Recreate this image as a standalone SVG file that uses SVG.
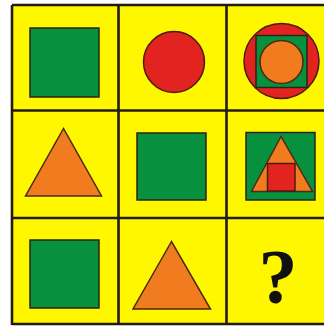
<svg xmlns="http://www.w3.org/2000/svg" width="324" height="328" viewBox="0 0 324 328">
<style>
.g{fill:#07913f;stroke:#2b2415;stroke-width:1.5}
.r{fill:#e3231f;stroke:#4a1d12;stroke-width:1.5}
.o{fill:#f07c1f;stroke:#4a2a10;stroke-width:1.5}
.ln{stroke:#231a12;stroke-width:2.6;fill:none}
</style>
<rect width="324" height="328" fill="#ffffff"/>
<rect x="12" y="5" width="314" height="320" fill="#fff700"/>
<g id="c11"><rect class="g" x="30" y="28" width="69" height="69"/></g>
<g id="c12"><circle class="r" cx="174" cy="62" r="30.5"/></g>
<g id="c13">
<circle class="r" cx="281.5" cy="61" r="37.5"/>
<rect class="g" x="256" y="35.5" width="51" height="52"/>
<circle class="o" cx="281.5" cy="62" r="21.5"/>
</g>
<g id="c21"><polygon class="o" points="63.5,128.5 25.5,196 101.5,196"/></g>
<g id="c22"><rect class="g" x="137" y="133" width="69" height="67"/></g>
<g id="c23">
<rect class="g" x="246" y="132.5" width="69" height="67.5"/>
<polygon class="o" points="281,136.5 251.5,191.5 312.5,191.5"/>
<rect class="r" x="267.5" y="163.5" width="27.5" height="27.5"/>
</g>
<g id="c31"><rect class="g" x="30" y="240" width="69" height="68"/></g>
<g id="c32"><polygon class="o" points="171.5,241.5 133,309 210.5,309"/></g>
<g id="c33"><text x="278" y="302.5" text-anchor="middle" font-family="'Liberation Serif', serif" font-weight="bold" font-size="78" fill="#111">?</text></g>
<g id="grid">
<path class="ln" d="M12,5 V325 M118.5,5 V325 M226.5,5 V325 M12,5 H326 M12,110.5 H326 M12,218 H326 M12,324 H326"/>
</g>
</svg>
